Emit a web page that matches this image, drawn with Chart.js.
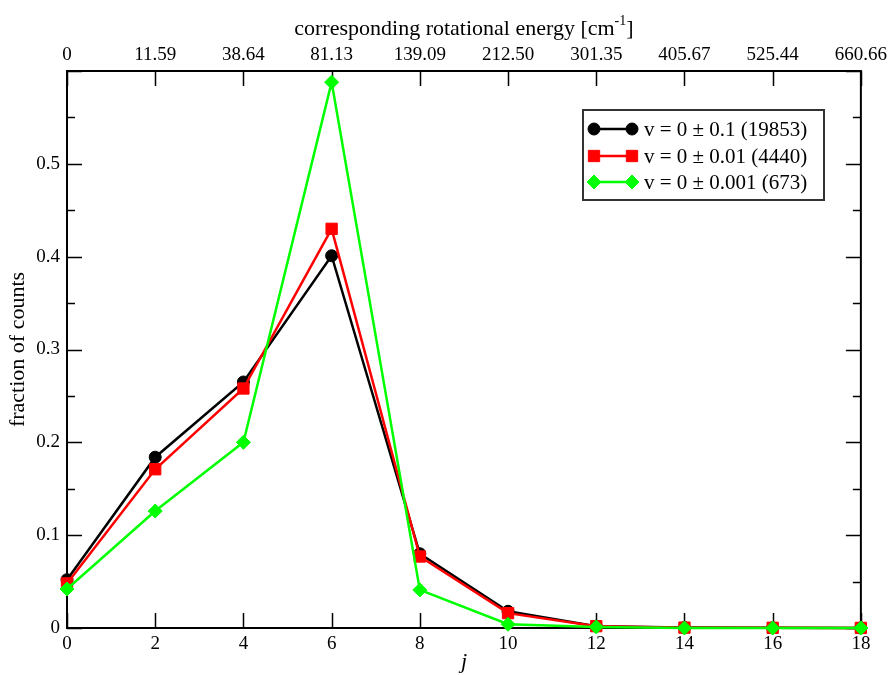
<!DOCTYPE html>
<html>
<head>
<meta charset="utf-8">
<script src="https://cdn.jsdelivr.net/npm/chart.js@4"></script>
<style>
html,body{margin:0;padding:0;background:#fff;}
canvas{display:block;}
</style>
</head>
<body>
<canvas id="c" width="892" height="675"></canvas>
<script>
const jValues = [0, 2, 4, 6, 8, 10, 12, 14, 16, 18];
const blackValues = [0.052, 0.184, 0.265, 0.401, 0.080, 0.018, 0.002, 0.0005, 0.0002, 0.0001];
const redValues = [0.048, 0.171, 0.258, 0.430, 0.077, 0.016, 0.002, 0.0004, 0.0002, 0.0001];
const greenValues = [0.042, 0.126, 0.200, 0.588, 0.041, 0.004, 0.0012, 0.0, 0.0, 0.0];
const seriesLabels = ['v = 0 \u00b1 0.1 (19853)', 'v = 0 \u00b1 0.01 (4440)', 'v = 0 \u00b1 0.001 (673)'];
const xTickLabels = ['0', '2', '4', '6', '8', '10', '12', '14', '16', '18'];
const energyTickLabels = ['0', '11.59', '38.64', '81.13', '139.09', '212.50', '301.35', '405.67', '525.44', '660.66'];
const yTickValues = [0, 0.1, 0.2, 0.3, 0.4, 0.5, 0.6];
const yTickLabels = ['0', '0.1', '0.2', '0.3', '0.4', '0.5', ''];
const yMinorValues = [0.05, 0.15, 0.25, 0.35, 0.45, 0.55];

const FONT = '"Liberation Serif", "Times New Roman", serif';
Chart.defaults.color = '#000';
Chart.defaults.font.family = FONT;
Chart.defaults.font.size = 19;

function pts(vals) { return jValues.map((j, i) => ({x: j, y: vals[i]})); }

const styles = [
  {color: '#000000', pointStyle: 'circle', radius: 6},
  {color: '#ff0000', pointStyle: 'rect', radius: 8},
  {color: '#00ff00', pointStyle: 'rectRot', radius: 7}
];
const seriesData = [blackValues, redValues, greenValues];

const datasets = seriesData.map((vals, i) => ({
  label: seriesLabels[i],
  data: pts(vals),
  borderColor: styles[i].color,
  backgroundColor: styles[i].color,
  borderWidth: 2.5,
  pointStyle: styles[i].pointStyle,
  pointRadius: styles[i].radius,
  pointHoverRadius: styles[i].radius,
  pointBorderWidth: 1,
  tension: 0,
  clip: false,
  order: 3 - i
}));

const framePlugin = {
  id: 'frame',
  beforeDatasetsDraw(chart) {
    const {ctx, chartArea: a, scales} = chart;
    ctx.save();
    ctx.strokeStyle = '#000';
    ctx.lineWidth = 2;
    ctx.strokeRect(a.left, a.top, a.right - a.left, a.bottom - a.top);
    ctx.lineWidth = 1.5;
    ctx.beginPath();
    const major = 15, minor = 8;
    jValues.forEach(j => {
      const px = Math.round(scales.x.getPixelForValue(j)) + 0.5;
      ctx.moveTo(px, a.bottom); ctx.lineTo(px, a.bottom - major);
      const px2 = Math.round(scales.x2.getPixelForValue(j)) + 0.5;
      ctx.moveTo(px2, a.top); ctx.lineTo(px2, a.top + major);
    });
    yTickValues.forEach(v => {
      const py = Math.round(scales.y.getPixelForValue(v)) + 0.5;
      ctx.moveTo(a.left, py); ctx.lineTo(a.left + major, py);
      ctx.moveTo(a.right, py); ctx.lineTo(a.right - major, py);
    });
    yMinorValues.forEach(v => {
      const py = Math.round(scales.y.getPixelForValue(v)) + 0.5;
      ctx.moveTo(a.left, py); ctx.lineTo(a.left + minor, py);
      ctx.moveTo(a.right, py); ctx.lineTo(a.right - minor, py);
    });
    ctx.stroke();
    ctx.restore();
  },
  afterDraw(chart) {
    const {ctx, chartArea: a} = chart;
    ctx.save();
    // top title with superscript
    const main = 'corresponding rotational energy [cm';
    const sup = '-1';
    const end = ']';
    ctx.font = '22px ' + FONT;
    const wMain = ctx.measureText(main).width;
    const wEnd = ctx.measureText(end).width;
    ctx.font = '14px ' + FONT;
    const wSup = ctx.measureText(sup).width;
    const total = wMain + wSup + wEnd;
    const cx = (a.left + a.right) / 2;
    let x = cx - total / 2;
    const base = 35;
    ctx.fillStyle = '#000';
    ctx.textBaseline = 'alphabetic';
    ctx.textAlign = 'left';
    ctx.font = '22px ' + FONT;
    ctx.fillText(main, x, base);
    x += wMain;
    ctx.font = '14px ' + FONT;
    ctx.fillText(sup, x, base - 10);
    x += wSup;
    ctx.font = '22px ' + FONT;
    ctx.fillText(end, x, base);

    // legend
    const lx = 583, ly = 110, lw = 241, lh = 90;
    ctx.fillStyle = '#fff';
    ctx.fillRect(lx, ly, lw, lh);
    ctx.strokeStyle = '#333';
    ctx.lineWidth = 2;
    ctx.strokeRect(lx, ly, lw, lh);
    const rows = [129, 156, 182];
    chart.data.datasets.forEach((ds, i) => {
      const y = rows[i];
      const x1 = 594, x2 = 632;
      ctx.strokeStyle = ds.borderColor;
      ctx.lineWidth = 2.5;
      ctx.beginPath(); ctx.moveTo(x1, y); ctx.lineTo(x2, y); ctx.stroke();
      ctx.fillStyle = ds.backgroundColor;
      ctx.lineWidth = 1;
      Chart.helpers.drawPoint(ctx, {pointStyle: ds.pointStyle, radius: ds.pointRadius, borderWidth: 1}, x1, y);
      Chart.helpers.drawPoint(ctx, {pointStyle: ds.pointStyle, radius: ds.pointRadius, borderWidth: 1}, x2, y);
      ctx.fillStyle = '#000';
      ctx.font = '21px ' + FONT;
      ctx.textBaseline = 'middle';
      ctx.textAlign = 'left';
      ctx.fillText(ds.label, 644, y + 1);
    });
    ctx.restore();
  }
};

new Chart(document.getElementById('c'), {
  type: 'line',
  data: {datasets},
  options: {
    responsive: false,
    animation: false,
    layout: {padding: {left: 0, right: 30, top: 0, bottom: 0}},
    plugins: {legend: {display: false}, tooltip: {enabled: false}},
    scales: {
      x: {
        type: 'linear', position: 'bottom', min: 0, max: 18,
        afterBuildTicks: s => { s.ticks = jValues.map(v => ({value: v})); },
        afterFit: s => { s.height = 47; },
        ticks: {autoSkip: false, maxRotation: 0, padding: 5,
          callback: (v, i) => xTickLabels[i]},
        grid: {display: false, drawTicks: false},
        border: {display: false},
        title: {display: true, text: 'j', font: {size: 22, style: 'italic', family: FONT}, padding: {top: 0, bottom: 0}}
      },
      x2: {
        type: 'linear', position: 'top', min: 0, max: 18,
        afterBuildTicks: s => { s.ticks = jValues.map(v => ({value: v})); },
        afterFit: s => { s.height = 71; },
        ticks: {autoSkip: false, maxRotation: 0, padding: 5,
          callback: (v, i) => energyTickLabels[i]},
        grid: {display: false, drawTicks: false},
        border: {display: false}
      },
      y: {
        type: 'linear', position: 'left', min: 0, max: 0.6,
        afterBuildTicks: s => { s.ticks = yTickValues.map(v => ({value: v})); },
        afterFit: s => { s.width = 67; },
        ticks: {padding: 7, callback: (v, i) => yTickLabels[i]},
        grid: {display: false, drawTicks: false},
        border: {display: false},
        title: {display: true, text: 'fraction of counts', font: {size: 22, family: FONT}, padding: {top: 5, bottom: 0}}
      }
    }
  },
  plugins: [framePlugin]
});
</script>
</body>
</html>
